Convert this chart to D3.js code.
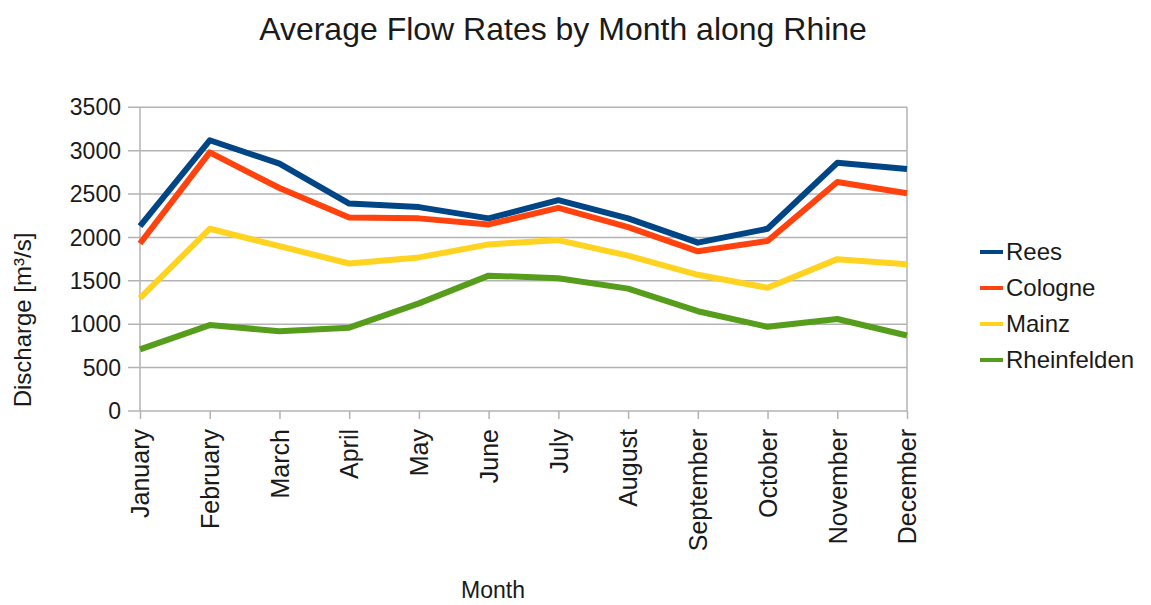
<!DOCTYPE html>
<html><head><meta charset="utf-8">
<script src="https://cdn.jsdelivr.net/npm/d3@7"></script>
<style>body{margin:0;background:#fff}svg{display:block}text{font-family:"Liberation Sans",Arial,sans-serif;fill:#1a1a1a}</style>
</head><body><svg id="c" width="1151" height="605"></svg>
<script>
const months = ["January","February","March","April","May","June","July","August","September","October","November","December"];
const yTicks = [0,500,1000,1500,2000,2500,3000,3500];
const seriesNames = ["Rees","Cologne","Mainz","Rheinfelden"];
const seriesColors = ["#004586","#ff420e","#ffd320","#579d1c"];
const rees        = [2130,3120,2850,2390,2350,2220,2430,2220,1940,2100,2860,2790];
const cologne     = [1930,2980,2570,2230,2220,2150,2340,2120,1840,1960,2640,2510];
const mainz       = [1300,2100,1900,1700,1770,1920,1970,1790,1570,1420,1750,1690];
const rheinfelden = [710,990,920,960,1240,1560,1530,1410,1150,970,1060,870];
const seriesValues = [rees,cologne,mainz,rheinfelden];

const svg = d3.select("#c");
const x = d3.scalePoint().domain(months).range([140,907]);
const y = d3.scaleLinear().domain([0,3500]).range([411,107.3]);

// grid
svg.append("g").selectAll("line").data(yTicks).join("line")
  .attr("x1",128).attr("x2",907).attr("y1",d=>y(d)).attr("y2",d=>y(d))
  .attr("stroke","#b3b3b3").attr("stroke-width",1.5);
// left & right frame
svg.append("line").attr("x1",140).attr("x2",140).attr("y1",y(3500)).attr("y2",y(0)).attr("stroke","#b3b3b3").attr("stroke-width",1.5);
svg.append("line").attr("x1",907).attr("x2",907).attr("y1",y(3500)).attr("y2",y(0)).attr("stroke","#b3b3b3").attr("stroke-width",1.5);

// y axis labels
svg.append("g").selectAll("text").data(yTicks).join("text")
  .attr("x",121).attr("y",d=>y(d)).attr("dy","0.35em").attr("text-anchor","end")
  .attr("font-size",23).text(d=>d);

// x axis
const xAxis = d3.axisBottom(x).tickSize(8).tickPadding(6);
const gx = svg.append("g").attr("transform",`translate(0,${y(0)})`).call(xAxis);
gx.select(".domain").remove();
gx.selectAll(".tick line").attr("stroke","#b3b3b3").attr("stroke-width",1.5);
gx.selectAll(".tick text")
  .attr("font-size",25).attr("font-family",'"Liberation Sans",Arial,sans-serif').attr("fill","#1a1a1a")
  .attr("transform","rotate(-90)").attr("text-anchor","end")
  .attr("x",-18).attr("y",0).attr("dy","0.35em");

// lines
const line = d3.line().x((d,i)=>x(months[i])).y(d=>y(d));
svg.append("g").selectAll("path").data(seriesValues).join("path")
  .attr("d",line).attr("fill","none")
  .attr("stroke",(d,i)=>seriesColors[i]).attr("stroke-width",6)
  .attr("stroke-linejoin","round");

// title
svg.append("text").attr("x",563).attr("y",40).attr("text-anchor","middle").attr("font-size",32)
  .text("Average Flow Rates by Month along Rhine");
// axis titles
svg.append("text").attr("transform","translate(31,320) rotate(-90)").attr("text-anchor","middle").attr("font-size",24)
  .text("Discharge [m³/s]");
svg.append("text").attr("x",493).attr("y",598).attr("text-anchor","middle").attr("font-size",23).text("Month");

// legend
const lg = svg.append("g").selectAll("g").data(seriesNames).join("g")
  .attr("transform",(d,i)=>`translate(980,${252+i*36})`);
lg.append("line").attr("x1",0).attr("x2",23).attr("stroke",(d,i)=>seriesColors[i]).attr("stroke-width",4);
lg.append("text").attr("x",26).attr("dy","0.35em").attr("font-size",24).text(d=>d);
</script></body></html>
